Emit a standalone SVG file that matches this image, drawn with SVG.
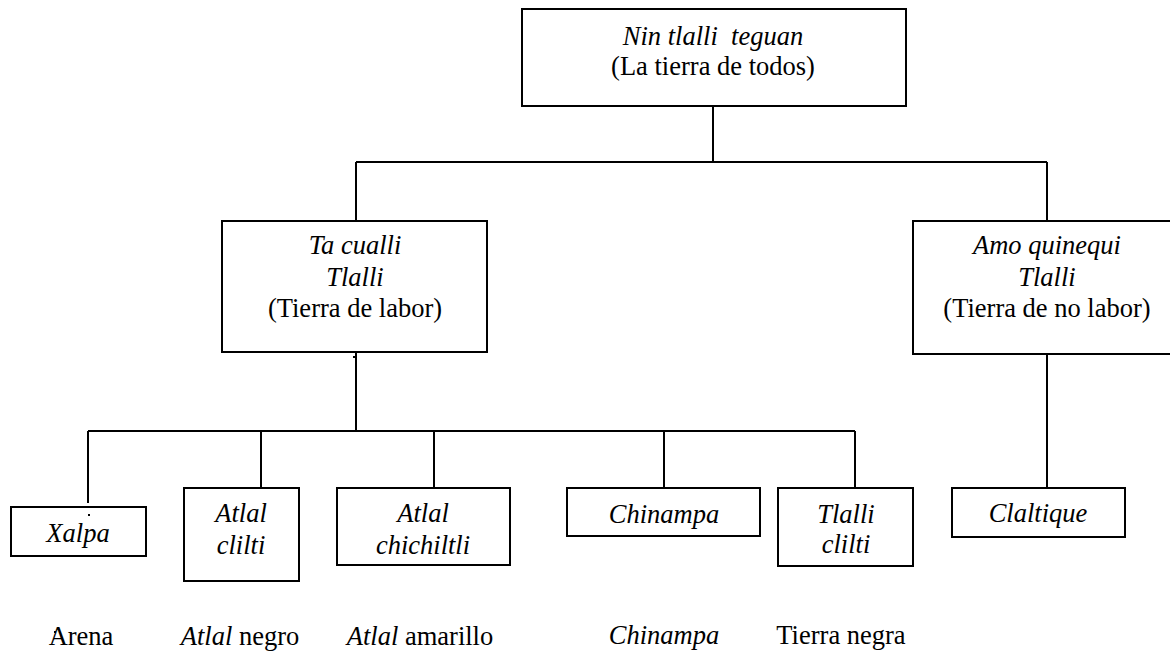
<svg xmlns="http://www.w3.org/2000/svg" width="1170" height="652" viewBox="0 0 1170 652">
<style>
.box{fill:#fff;stroke:#000;stroke-width:2}
.ln{stroke:#000;stroke-width:2;fill:none}
.t{font-family:'Liberation Serif','Times New Roman','DejaVu Serif',serif;font-size:26.5px;fill:#000;text-anchor:middle}
.i{font-style:italic}
</style>
<rect width="1170" height="652" fill="#fff"/>
<g id="connectors">
<path class="ln" d="M713 106V162M356 162H1047M356 162V221M1047 162V221"/>
<path class="ln" d="M356 352V431M88 431H855M88 431V503M261 431V488M434 431V488M664 431V488M855 431V488"/>
<path class="ln" d="M1047 354V488"/>
</g>
<g id="root">
<rect class="box" x="522" y="9" width="384" height="97"/>
<text x="713" y="45" class="t i" xml:space="preserve">Nin tlalli  teguan</text>
<text x="713" y="75" class="t">(La tierra de todos)</text>
</g>
<g id="labor">
<rect class="box" x="222" y="221" width="265" height="131"/>
<text x="355" y="254" class="t i">Ta cualli</text>
<text x="355" y="286" class="t i">Tlalli</text>
<text x="355" y="317" class="t">(Tierra de labor)</text>
<rect x="353" y="356" width="2" height="2" fill="#000"/>
</g>
<g id="nolabor">
<rect class="box" x="913" y="221" width="270" height="133"/>
<text x="1047" y="254" class="t i">Amo quinequi</text>
<text x="1047" y="286" class="t i">Tlalli</text>
<text x="1047" y="317" class="t">(Tierra de no labor)</text>
</g>
<g id="xalpa">
<rect class="box" x="11" y="507" width="135" height="49"/>
<rect x="88" y="514" width="2" height="2" fill="#000"/>
<text x="78" y="542" class="t i">Xalpa</text>
</g>
<g id="atlal-clilti">
<rect class="box" x="184" y="488" width="115" height="93"/>
<text x="241" y="522" class="t i">Atlal</text>
<text x="241" y="554" class="t i">clilti</text>
</g>
<g id="atlal-chichiltli">
<rect class="box" x="337" y="488" width="173" height="77"/>
<text x="423" y="522" class="t i">Atlal</text>
<text x="423" y="554" class="t i">chichiltli</text>
</g>
<g id="chinampa">
<rect class="box" x="567" y="488" width="193" height="48"/>
<text x="664" y="523" class="t i">Chinampa</text>
</g>
<g id="tlalli-clilti">
<rect class="box" x="778" y="488" width="135" height="78"/>
<text x="846" y="523" class="t i">Tlalli</text>
<text x="846" y="553" class="t i">clilti</text>
</g>
<g id="claltique">
<rect class="box" x="952" y="488" width="173" height="49"/>
<text x="1038" y="522" class="t i">Claltique</text>
</g>
<g id="labels">
<rect x="54" y="631" width="2" height="2" fill="#000"/>
<text x="81" y="645" class="t">Arena</text>
<text x="240" y="645" class="t"><tspan class="i">Atlal</tspan> negro</text>
<text x="420" y="645" class="t"><tspan class="i">Atlal</tspan> amarillo</text>
<text x="664" y="644" class="t i">Chinampa</text>
<text x="841" y="644" class="t">Tierra negra</text>
</g>
</svg>
